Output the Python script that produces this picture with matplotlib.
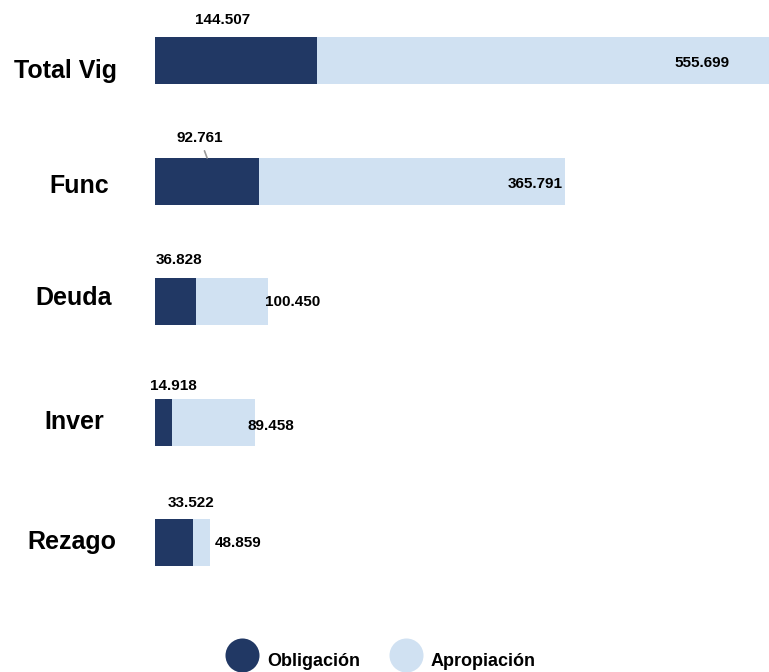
import matplotlib.pyplot as plt
from matplotlib.lines import Line2D
import matplotlib.transforms as mtransforms

plt.rcParams['font.family'] = ['Liberation Sans', 'DejaVu Sans']

# datos
categorias = ['Total Vig', 'Func', 'Deuda', 'Inver', 'Rezago']
obligacion = [144.507, 92.761, 36.828, 14.918, 33.522]
apropiacion = [555.699, 365.791, 100.450, 89.458, 48.859]

c_oblig = '#213864'
c_aprop = '#d0e1f2'

W, H = 769, 672
fig = plt.figure(figsize=(W / 100, H / 100), dpi=100)
ax = fig.add_axes([155 / W, 1 - 603 / H, 614 / W, 603 / H])

y = list(range(len(categorias)))
ax.barh(y, apropiacion, height=0.39, color=c_aprop, zorder=1)
ax.barh(y, obligacion, height=0.39, color=c_oblig, zorder=2)

ax.set_xlim(0, 547.7)
ax.set_ylim(4.498, -0.506)
ax.axis('off')

# etiquetas de categoria
trans = mtransforms.blended_transform_factory(ax.transAxes, ax.transData)
cat_x = [-0.146, -0.123, -0.132, -0.131, -0.136]
cat_dy = [0.08, 0.04, -0.03, 0.0, -0.01]
for i, c in enumerate(categorias):
    ax.text(cat_x[i], i + cat_dy[i], c, transform=trans, ha='center', va='center',
            fontsize=18, fontweight='bold')

# etiquetas de obligacion (sobre la barra)
pos_oblig = [60, 40, 21, 16.5, 32.5]
dy_oblig = [0.336, 0.357, 0.345, 0.303, 0.328]
for i, v in enumerate(obligacion):
    txt = f'{v:.3f}'
    if i == 1:
        ax.annotate(txt, xy=(46.5, i - 0.195), xytext=(pos_oblig[i], i - dy_oblig[i]),
                    ha='center', va='center', fontsize=11, fontweight='bold',
                    arrowprops=dict(arrowstyle='-', color='#999999', lw=1.2,
                                    shrinkA=2, shrinkB=0))
    else:
        ax.text(pos_oblig[i], i - dy_oblig[i], txt, ha='center', va='center',
                fontsize=11, fontweight='bold')

# etiquetas de apropiacion
ax.text(513, 0.02, f'{apropiacion[0]:.3f}', ha='right', va='center', fontsize=11, fontweight='bold')
ax.text(364, 1.02, f'{apropiacion[1]:.3f}', ha='right', va='center', fontsize=11, fontweight='bold')
ax.text(98, 2.0, f'{apropiacion[2]:.3f}', ha='left', va='center', fontsize=11, fontweight='bold')
ax.text(82.5, 3.03, f'{apropiacion[3]:.3f}', ha='left', va='center', fontsize=11, fontweight='bold')
ax.text(53, 4.0, f'{apropiacion[4]:.3f}', ha='left', va='center', fontsize=11, fontweight='bold')

# leyenda manual
series = ['Obligación', 'Apropiación']
colores = [c_oblig, c_aprop]
for k, (nombre, col) in enumerate(zip(series, colores)):
    cx = (242 + 164 * k) / W
    fig.add_artist(Line2D([cx], [1 - 655 / H], marker='o', ls='', markersize=24.5,
                          markeredgewidth=0, color=col, transform=fig.transFigure))
    fig.text(cx + 25 / W, 1 - 661 / H, nombre, ha='left', va='center',
             fontsize=13, fontweight='bold')

plt.savefig('out.png', dpi=100)
plt.close(fig)
